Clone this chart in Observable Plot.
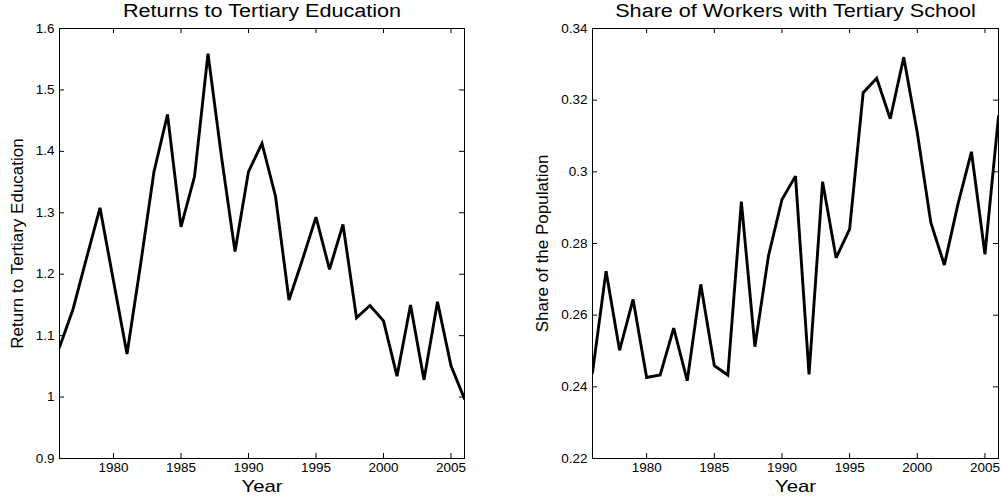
<!DOCTYPE html>
<html><head><meta charset="utf-8">
<script src="https://cdn.jsdelivr.net/npm/d3@7"></script>
<script src="https://cdn.jsdelivr.net/npm/@observablehq/plot@0.6"></script>
<style>
html,body{margin:0;padding:0;background:#fff;}
#wrap{display:flex;width:1002px;height:499px;overflow:hidden;}
#wrap svg{display:block;}
</style></head><body><div id="wrap"></div>
<script>
const years = [1976,1977,1978,1979,1980,1981,1982,1983,1984,1985,1986,1987,1988,1989,1990,1991,1992,1993,1994,1995,1996,1997,1998,1999,2000,2001,2002,2003,2004,2005,2006];
const returnsTertiary = [1.081,1.143,1.226,1.308,1.189,1.070,1.215,1.367,1.460,1.277,1.359,1.559,1.391,1.237,1.367,1.413,1.327,1.158,1.224,1.293,1.208,1.281,1.129,1.149,1.124,1.034,1.150,1.028,1.155,1.051,0.997];
const shareTertiary = [0.244,0.2723,0.2502,0.2644,0.2426,0.2433,0.2564,0.2417,0.2686,0.2459,0.2433,0.2917,0.2512,0.2765,0.2923,0.2988,0.2435,0.2972,0.2760,0.2840,0.3221,0.3261,0.3148,0.332,0.3109,0.2858,0.274,0.2909,0.3056,0.277,0.3155];
const xTicks = [1980,1985,1990,1995,2000,2005];
const xTickLabels = ["1980","1985","1990","1995","2000","2005"];
const leftYTicks = [0.9,1.0,1.1,1.2,1.3,1.4,1.5,1.6];
const leftYTickLabels = ["0.9","1","1.1","1.2","1.3","1.4","1.5","1.6"];
const rightYTicks = [0.22,0.24,0.26,0.28,0.30,0.32,0.34];
const rightYTickLabels = ["0.22","0.24","0.26","0.28","0.3","0.32","0.34"];
const leftTitle = "Returns to Tertiary Education";
const rightTitle = "Share of Workers with Tertiary School";
const leftYLabel = "Return to Tertiary Education";
const rightYLabel = "Share of the Population";
const xLabel = "Year";

const FONT = "'Liberation Sans', Arial, Helvetica, sans-serif";

function panel({values, yDomain, yTicks, yTickLabels, title, yLabel, width, marginLeft, marginRight, yLabelOffset}) {
  const height = 499, marginTop = 28, marginBottom = 41;
  const innerH = height - marginTop - marginBottom;
  const innerW = width - marginLeft - marginRight;
  const tl = 5;
  const rows = years.map((yr, i) => ({year: yr, value: values[i]}));
  return Plot.plot({
    width, height, marginLeft, marginRight, marginTop, marginBottom,
    x: {domain: [1976, 2006]},
    y: {domain: yDomain},
    style: {fontFamily: FONT, fontSize: "12.5px", color: "#000", background: "#fff", overflow: "visible"},
    marks: [
      Plot.line(rows, {x: "year", y: "value", stroke: "#000", strokeWidth: 2.9, strokeLinejoin: "miter", strokeMiterlimit: 3, clip: true}),
      Plot.frame({stroke: "#000", strokeWidth: 1}),
      Plot.tickX(xTicks, {x: d => d, stroke: "#000", strokeWidth: 1, insetTop: innerH - tl}),
      Plot.tickX(xTicks, {x: d => d, stroke: "#000", strokeWidth: 1, insetBottom: innerH - tl}),
      Plot.tickY(yTicks, {y: d => d, stroke: "#000", strokeWidth: 1, insetRight: innerW - tl}),
      Plot.tickY(yTicks, {y: d => d, stroke: "#000", strokeWidth: 1, insetLeft: innerW - tl}),
      Plot.axisX(xTicks, {tickSize: 0, tickPadding: 5, tickFormat: d => xTickLabels[xTicks.indexOf(d)], label: null}),
      Plot.axisY(yTicks, {tickSize: 0, tickPadding: 5, tickFormat: d => yTickLabels[yTicks.indexOf(d)], label: null}),
      Plot.text([title], {text: d => d, frameAnchor: "top", lineAnchor: "top", dy: -24, fontSize: 18, fill: "#000"}),
      Plot.text([xLabel], {text: d => d, frameAnchor: "bottom", lineAnchor: "top", textAnchor: "middle", dy: 21, fontSize: 17, fill: "#000"}),
      Plot.text([yLabel], {text: d => d, frameAnchor: "left", lineAnchor: "top", textAnchor: "middle", rotate: -90, dx: -yLabelOffset, fontSize: 17, fill: "#000"})
    ]
  });
}

const wrap = document.getElementById("wrap");
const left = panel({values: returnsTertiary, yDomain: [0.9, 1.6], yTicks: leftYTicks, yTickLabels: leftYTickLabels,
  title: leftTitle, yLabel: leftYLabel, width: 500, marginLeft: 59, marginRight: 36, yLabelOffset: 49});
const right = panel({values: shareTertiary, yDomain: [0.22, 0.34], yTicks: rightYTicks, yTickLabels: rightYTickLabels,
  title: rightTitle, yLabel: rightYLabel, width: 502, marginLeft: 92, marginRight: 4, yLabelOffset: 57});
wrap.appendChild(left);
wrap.appendChild(right);

// Reference text is horizontally stretched; widen horizontal labels to match.
for (const svg of [left, right]) {
  svg.querySelectorAll("text").forEach(t => {
    const tr = t.getAttribute("transform") || "";
    if (tr.includes("rotate")) return;
    const fs = parseFloat(getComputedStyle(t).fontSize);
    const factor = fs >= 16 ? 1.2 : 1.08;
    const w = t.getComputedTextLength();
    if (w > 0) {
      t.setAttribute("textLength", (w * factor).toFixed(1));
      t.setAttribute("lengthAdjust", "spacingAndGlyphs");
    }
  });
}
</script></body></html>
